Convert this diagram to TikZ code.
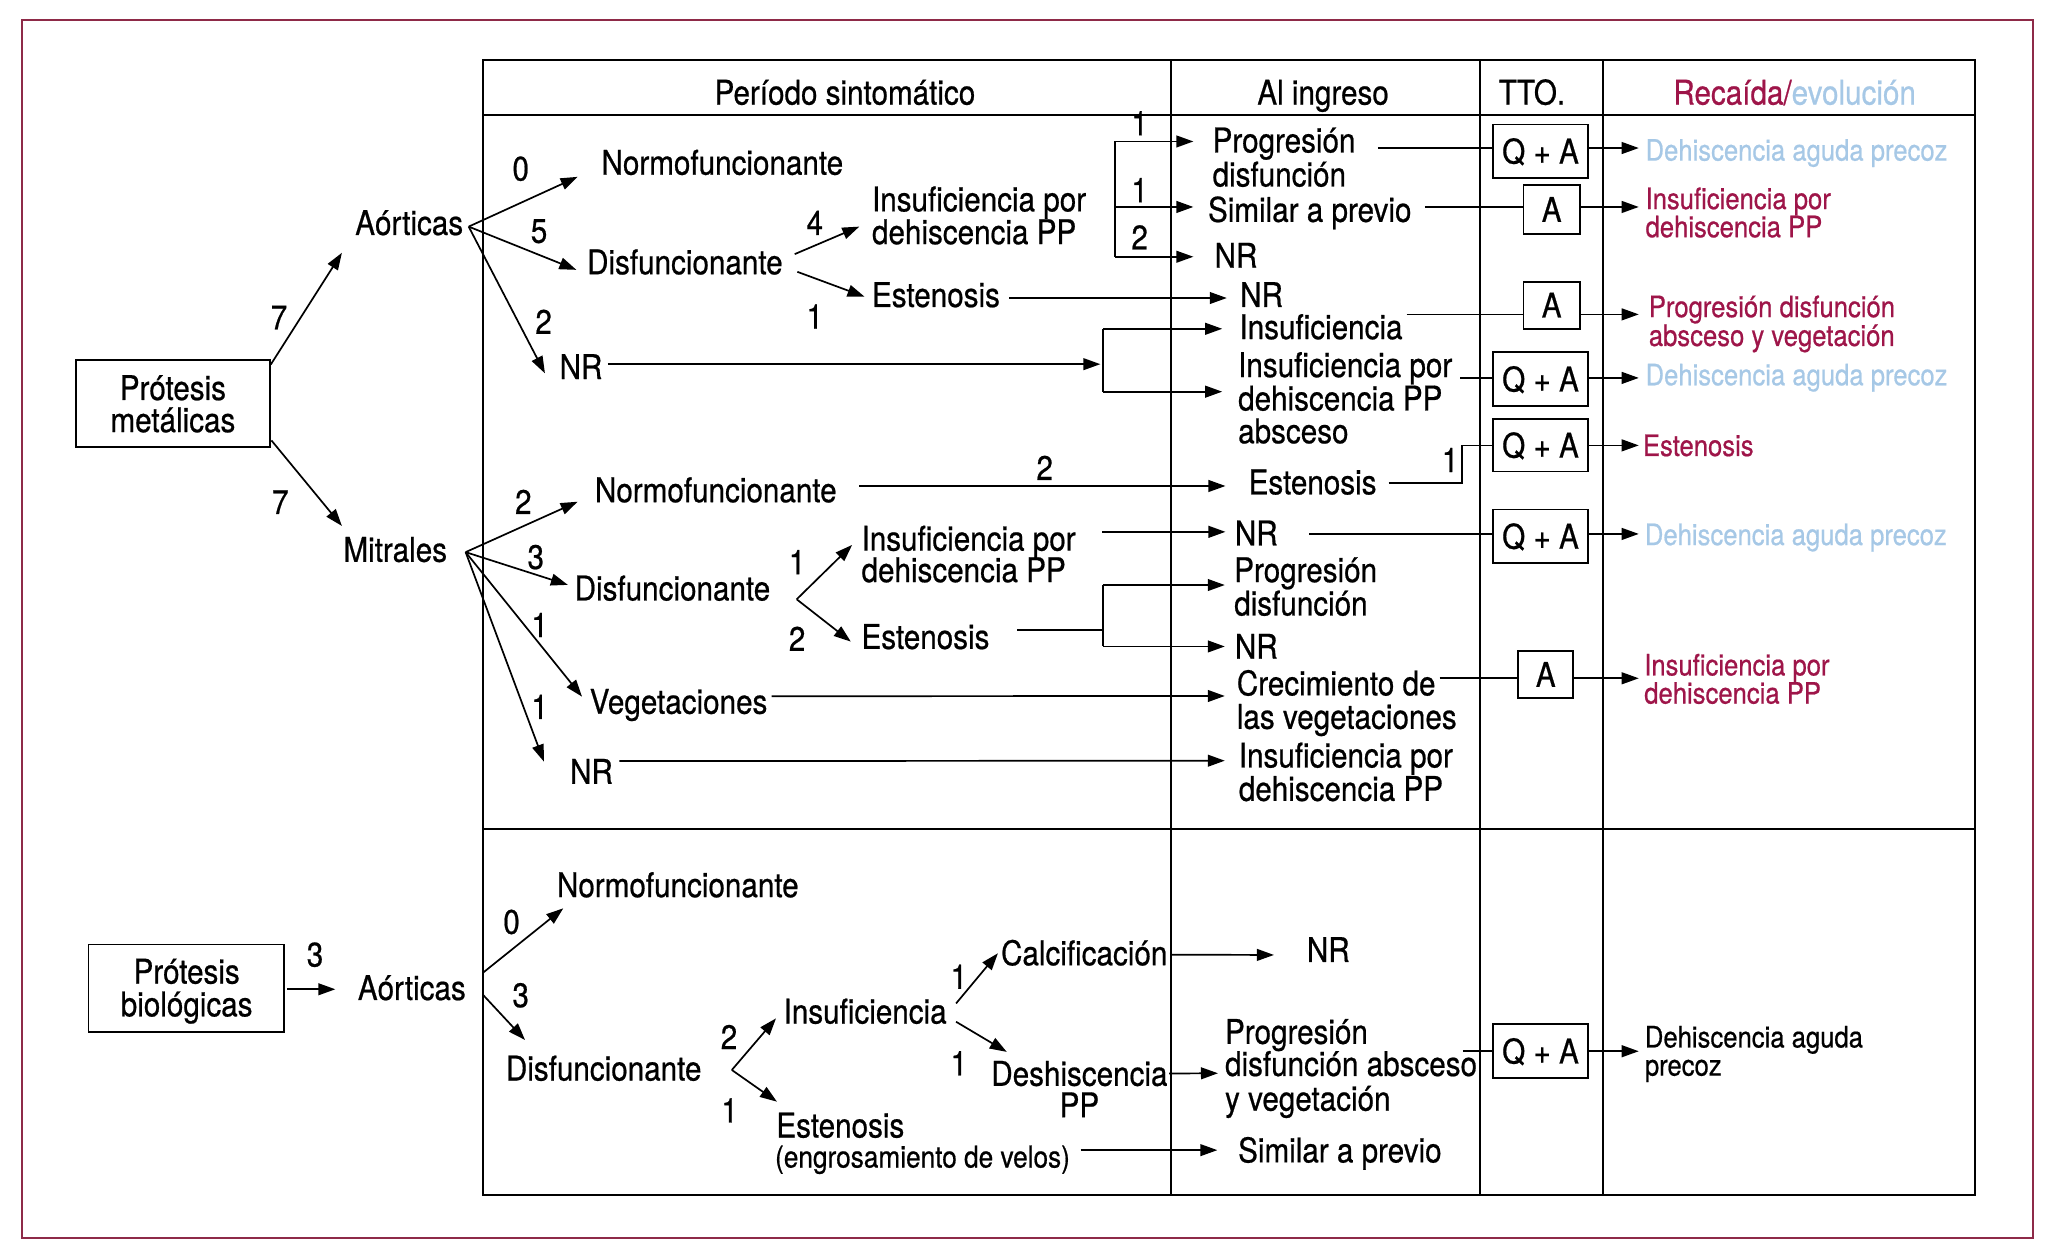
\documentclass[tikz,border=0pt]{standalone}
\usepackage{fontspec}
\setmainfont{TeX Gyre Heros}[FakeStretch=0.87,FakeBold=0.6]
\usetikzlibrary{arrows.meta}
\definecolor{maroonc}{HTML}{9E1549}
\definecolor{lbluec}{HTML}{A6C8E6}
\definecolor{framec}{HTML}{8E2A48}
\newcommand\fbig{\fontsize{26}{26}\selectfont}
\newcommand\fsml{\fontsize{22.5}{22.5}\selectfont}
\begin{document}
\begin{tikzpicture}[x=1pt,y=-1pt,
  tx/.style={inner sep=0pt,anchor=west,text height=18.7pt,text depth=0pt,font=\fbig},
  hd/.style={tx,anchor=center},
  sm/.style={inner sep=0pt,anchor=west,text height=16.2pt,text depth=0pt,font=\fsml},
  ln/.style={line width=1.3pt},
  arr/.style={ln,-{Triangle[length=13pt,width=9pt]}},
  bx/.style={draw,line width=1.4pt,inner sep=0pt,anchor=center,text height=18.7pt,text depth=0pt,font=\fbig},
  lbox/.style={draw,line width=1.4pt,inner sep=0pt,anchor=center},
  tab/.style={line width=1.6pt},
]
\useasboundingbox (0,0) rectangle (1568,957);
\draw[framec,line width=1.5pt] (17,15) rectangle (1552,945);

% ---------- table ----------
\draw[tab] (369,46) rectangle (1508,912);
\draw[tab] (369,88) -- (1508,88);
\draw[tab] (369,633) -- (1508,633);
\draw[tab] (894,46) -- (894,912);
\draw[tab] (1130,46) -- (1130,912);
\draw[tab] (1224,46) -- (1224,912);

\node[hd] (h1) at (645,70.5) {Período sintomático};
\node[hd] (h2) at (1010,70.5) {Al ingreso};
\node[hd] (h3) at (1169.5,70.5) {TTO.};
\node[hd] (h4) at (1370,70.5) {\textcolor{maroonc}{Recaída/}\textcolor{lbluec}{evolución}};

% ---------- left boxes ----------
\node[lbox,minimum width=148pt,minimum height=66pt] (pm) at (132,308) {};
\node[hd] (pm1) at (132,296) {Prótesis};
\node[hd] (pm2) at (132,320.5) {metálicas};
\node[lbox,minimum width=149pt,minimum height=67pt] (pb) at (142,754.5) {};
\node[hd] (pb1) at (142.5,741.5) {Prótesis};
\node[hd] (pb2) at (142.5,766.5) {biológicas};

% ---------- metallic aortic ----------
\node[tx] (aort) at (271,170) {Aórticas};
\node[tx] (normoA) at (459,124) {Normofuncionante};
\node[tx] (disfA) at (448,200) {Disfuncionante};
\node[tx] (nrA) at (427,280) {NR};
\node[tx] (insA1) at (665.5,152) {Insuficiencia por};
\node[tx] (insA1b) at (665.5,177) {dehiscencia PP};
\node[tx] (estA) at (665.5,225) {Estenosis};
\node[tx] (progA1) at (925.5,107) {Progresión};
\node[tx] (progA1b) at (925.5,133) {disfunción};
\node[tx] (simA) at (922,160) {Similar a previo};
\node[tx] (nrA1) at (927,195) {NR};
\node[tx] (nrA2) at (946.5,225) {NR};
\node[tx] (insA2) at (946,249.5) {Insuficiencia};
\node[tx] (insA3) at (945,278.5) {Insuficiencia por};
\node[tx] (insA3b) at (945,304) {dehiscencia PP};
\node[tx] (insA3c) at (945,329) {absceso};

\node[bx,minimum width=73pt,minimum height=41pt] (qa1) at (1176,115.5) {Q + A};
\node[bx,minimum width=43pt,minimum height=37pt] (a2) at (1184.5,160) {A};
\node[bx,minimum width=43pt,minimum height=36pt] (a3) at (1184.5,233) {A};
\node[bx,minimum width=73pt,minimum height=41pt] (qa4) at (1176,289.5) {Q + A};

\node[sm,lbluec] (r1) at (1256,114.5) {Dehiscencia aguda precoz};
\node[sm,maroonc] (r2) at (1256,151.5) {Insuficiencia por};
\node[sm,maroonc] (r2b) at (1256,173) {dehiscencia PP};
\node[sm,maroonc] (r3) at (1258.5,234) {Progresión disfunción};
\node[sm,maroonc] (r3b) at (1258.5,256) {absceso y vegetación};
\node[sm,lbluec] (r4) at (1256,286) {Dehiscencia aguda precoz};

% ---------- metallic mitral ----------
\node[tx] (mitr) at (262,419.5) {Mitrales};
\node[tx] (normoM) at (454,374) {Normofuncionante};
\node[tx] (disfM) at (438.5,449) {Disfuncionante};
\node[tx] (vegM) at (450,535.5) {Vegetaciones};
\node[tx] (nrM) at (435,589) {NR};
\node[tx] (insM1) at (657.5,411) {Insuficiencia por};
\node[tx] (insM1b) at (657.5,435) {dehiscencia PP};
\node[tx] (estM) at (657.5,486) {Estenosis};
\node[tx] (estM2) at (953,368) {Estenosis};
\node[tx] (nrM1) at (942.5,407) {NR};
\node[tx] (progM) at (942,435) {Progresión};
\node[tx] (progMb) at (942,460.5) {disfunción};
\node[tx] (nrM2) at (942.5,493.5) {NR};
\node[tx] (crecM) at (944,521.5) {Crecimiento de};
\node[tx] (crecMb) at (944,547) {las vegetaciones};
\node[tx] (insM2) at (945.5,576.5) {Insuficiencia por};
\node[tx] (insM2b) at (945.5,602) {dehiscencia PP};

\node[bx,minimum width=73pt,minimum height=40pt] (qa5) at (1176,340) {Q + A};
\node[bx,minimum width=73pt,minimum height=41pt] (qa6) at (1176,409.5) {Q + A};
\node[bx,minimum width=42pt,minimum height=36pt] (a7) at (1180,515) {A};

\node[sm,maroonc] (r5) at (1254,340) {Estenosis};
\node[sm,lbluec] (r6) at (1255.5,408) {Dehiscencia aguda precoz};
\node[sm,maroonc] (r7) at (1255,507.5) {Insuficiencia por};
\node[sm,maroonc] (r7b) at (1255,529) {dehiscencia PP};

% ---------- biological ----------
\node[tx] (aortB) at (273,754) {Aórticas};
\node[tx] (normoB) at (425,675.5) {Normofuncionante};
\node[tx] (disfB) at (386,815.5) {Disfuncionante};
\node[tx] (insB) at (598,772) {Insuficiencia};
\node[tx] (estB) at (592.5,859) {Estenosis};
\node[sm,font=\fontsize{23}{23}\selectfont,text height=16.5pt] (engB) at (591.5,883) {(engrosamiento de velos)};
\node[tx] (calcB) at (764,727.5) {Calcificación};
\node[hd] (deshB) at (824,819.5) {Deshiscencia};
\node[hd] (deshBb) at (824,843.5) {PP};
\node[tx] (nrB) at (997.5,725) {NR};
\node[tx] (progB) at (935,787.5) {Progresión};
\node[tx] (progBb) at (935,812) {disfunción absceso};
\node[tx] (progBc) at (935,838.5) {y vegetación};
\node[tx] (simB) at (945,878) {Similar a previo};
\node[bx,minimum width=73pt,minimum height=41pt] (qaB) at (1176,802.5) {Q + A};
\node[sm] (rB) at (1255.5,791.5) {Dehiscencia aguda};
\node[sm] (rBb) at (1255.5,813) {precoz};

% ---------- count labels ----------
\node[hd] (l1) at (213,242) {7};
\node[hd] (l2) at (214,383) {7};
\node[hd] (l3) at (397.5,128.5) {0};
\node[hd] (l4) at (411.5,176) {5};
\node[hd] (l5) at (415,245.5) {2};
\node[hd] (l6) at (622,170) {4};
\node[hd] (l7) at (622,241.5) {1};
\node[hd] (l8) at (870,94) {1};
\node[hd] (l9) at (870,145) {1};
\node[hd] (l10) at (870,181) {2};
\node[hd] (l11) at (399.5,383) {2};
\node[hd] (l12) at (409,425) {3};
\node[hd] (l13) at (412,477) {1};
\node[hd] (l14) at (412,539.5) {1};
\node[hd] (l15) at (797.5,357) {2};
\node[hd] (l16) at (608.5,429) {1};
\node[hd] (l17) at (608.5,487.5) {2};
\node[hd] (l18) at (1107,351) {1};
\node[hd] (l19) at (240.5,728.5) {3};
\node[hd] (l20) at (390.5,703.5) {0};
\node[hd] (l21) at (397.5,759.5) {3};
\node[hd] (l22) at (556.5,791.5) {2};
\node[hd] (l23) at (557,847.5) {1};
\node[hd] (l24) at (732,745.5) {1};
\node[hd] (l25) at (732,811.5) {1};

% ---------- spines ----------
\coordinate (rt) at (1251,0);
\coordinate (sp1) at (851,0);
\coordinate (sp2) at (842,0);
\coordinate (sp2a) at (840,0);
\coordinate (sp5) at (1116,0);
\coordinate (spM) at (842,0);

% ---------- connectors: metallic ----------
\draw[arr] ([shift={(0,4)}]pm.north east) -- ([shift={(-10,23)}]aort.west);
\draw[arr] ([shift={(0.5,-5.5)}]pm.south east) -- ([shift={(-1,-18)}]mitr.west);

\coordinate (oA) at ([shift={(4,3)}]aort.east);
\draw[arr] (oA) -- ([shift={(-18,11)}]normoA.west);
\draw[arr] (oA) -- ([shift={(-8,6)}]disfA.west);
\draw[arr] (oA) -- ([shift={(-11,5)}]nrA.west);
\draw[arr] ([shift={(9,-6)}]disfA.east) -- ([shift={(-9.5,-4)}]insA1b.west);
\draw[arr] ([shift={(11,7.5)}]disfA.east) -- ([shift={(-5.5,1.5)}]estA.west);

\coordinate (t11) at ([shift={(-14.5,1)}]progA1.west);
\coordinate (t12) at ([shift={(-11,-2)}]simA.west);
\coordinate (t13) at ([shift={(-16,1)}]nrA1.west);
\draw[ln] (sp1 |- t11) -- (sp1 |- t13);
\draw[arr] (sp1 |- t11) -- (t11);
\draw[arr] (sp1 |- t12) -- (t12);
\draw[arr] (sp1 |- t13) -- (t13);

\coordinate (e1) at ([shift={(7,2.5)}]estA.east);
\draw[arr] (e1) -- ([shift={(-10,2.5)}]nrA2.west);

\coordinate (n1) at ([shift={(4,-2)}]nrA.east);
\draw[arr] (n1) -- (sp2a |- n1);
\coordinate (t21) at ([shift={(-13,1.5)}]insA2.west);
\coordinate (t22) at ([shift={(-12,-5)}]insA3b.west);
\draw[ln] (sp2 |- t21) -- (sp2 |- t22);
\draw[arr] (sp2 |- t21) -- (t21);
\draw[arr] (sp2 |- t22) -- (t22);

\coordinate (c1) at ([shift={(17,6)}]progA1.east);
\draw[ln] (c1) -- (c1 -| qa1.west);
\draw[arr] (c1 -| qa1.east) -- (c1 -| rt);
\coordinate (c2) at ([shift={(10,-2)}]simA.east);
\draw[ln] (c2) -- (c2 -| a2.west);
\draw[arr] (c2 -| a2.east) -- (c2 -| rt);
\coordinate (c3) at ([shift={(3,-9.5)}]insA2.east);
\draw[ln] (c3) -- (c3 -| a3.west);
\draw[arr] (c3 -| a3.east) -- (c3 -| rt);
\coordinate (c4) at ([shift={(6,10)}]insA3.east);
\draw[ln] (c4) -- (c4 -| qa4.west);
\draw[arr] (c4 -| qa4.east) -- (c4 -| rt);

% mitral
\coordinate (oM) at ([shift={(14,2)}]mitr.east);
\draw[arr] (oM) -- ([shift={(-13,9)}]normoM.west);
\draw[arr] (oM) -- ([shift={(-5,-2.5)}]disfM.west);
\draw[arr] (oM) -- ([shift={(-5.7,-3.7)}]vegM.west);
\draw[arr] (oM) -- ([shift={(-19.8,-7.6)}]nrM.west);
\coordinate (oD) at ([shift={(20,8.5)}]disfM.east);
\draw[arr] (oD) -- ([shift={(-7,5)}]insM1.west);
\draw[arr] (oD) -- ([shift={(-8,3.8)}]estM.west);

\coordinate (c5) at ([shift={(17,-3)}]normoM.east);
\draw[arr] (c5) -- ([shift={(-17.5,3)}]estM2.west);
\coordinate (c6) at ([shift={(20,-5)}]insM1.east);
\draw[arr] (c6) -- ([shift={(-7,-1)}]nrM1.west);
\coordinate (c7) at ([shift={(24,0.6)}]nrM1.east);
\draw[ln] (c7) -- (c7 -| qa6.west);
\draw[arr] (c7 -| qa6.east) -- (c7 -| rt);
\coordinate (c8) at ([shift={(9,0.5)}]estM2.east);
\draw[ln] (c8) -- (c8 -| sp5) |- (qa5.west);
\draw[arr] (qa5.east) -- (qa5.east -| rt);

\coordinate (c9) at ([shift={(21,-5)}]estM.east);
\draw[ln] (c9) -- (c9 -| spM);
\coordinate (t31) at ([shift={(-7,11.6)}]progM.west);
\coordinate (t32) at ([shift={(-7.5,0)}]nrM2.west);
\draw[ln] (spM |- t31) -- (spM |- t32);
\draw[arr] (spM |- t31) -- (t31);
\draw[arr] (spM |- t32) -- (t32);

\coordinate (c10) at ([shift={(3,-4)}]vegM.east);
\draw[arr] (c10) -- ([shift={(-9,9.8)}]crecM.west);
\coordinate (c11) at ([shift={(3,-3.7)}]crecM.east);
\draw[ln] (c11) -- (c11 -| a7.west);
\draw[arr] (c11 -| a7.east) -- (c11 -| rt);
\coordinate (c12) at ([shift={(4.7,-8)}]nrM.east);
\draw[arr] (c12) -- ([shift={(-10.5,4.2)}]insM2.west);

% ---------- connectors: biological ----------
\draw[arr] ([shift={(2,0.7)}]pb.east) -- ([shift={(-17,1.2)}]aortB.west);
\draw[arr] ([shift={(13,-11.5)}]aortB.east) -- ([shift={(5,17.9)}]normoB.west);
\draw[arr] ([shift={(13,5.5)}]aortB.east) -- ([shift={(14.8,-21.6)}]disfB.west);
\coordinate (oDB) at ([shift={(23,1.3)}]disfB.east);
\draw[arr] (oDB) -- ([shift={(-5.6,5.4)}]insB.west);
\draw[arr] (oDB) -- ([shift={(0.6,-18)}]estB.west);
\draw[arr] ([shift={(7,-6)}]insB.east) -- ([shift={(-2.2,0.2)}]calcB.west);
\draw[arr] ([shift={(7,8)}]insB.east) -- ([shift={(12,-16.5)}]deshB.west);
\draw[arr] ([shift={(2.5,1.3)}]calcB.east) -- ([shift={(-25,4)}]nrB.west);
\draw[arr] ([shift={(1,0)}]deshB.east) -- ([shift={(-5.2,7.3)}]progBb.west);
\draw[arr] ([shift={(8,-5)}]engB.east) -- ([shift={(-15.7,0)}]simB.west);
\draw[ln] ([shift={(-22,0)}]qaB.west) -- (qaB.west);
\draw[arr] (qaB.east) -- (qaB.east -| rt);
\end{tikzpicture}
\end{document}
